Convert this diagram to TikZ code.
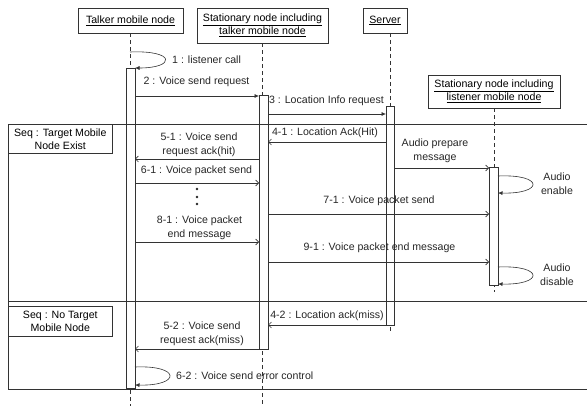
\documentclass[tikz,border=0pt]{standalone}
\usepackage{fontspec}
\setmainfont{Liberation Sans}
\usetikzlibrary{arrows.meta}
\begin{document}
\begin{tikzpicture}[x=1pt,y=-1pt,
  ln/.style={draw=black!80,line width=0.6pt},
  life/.style={draw=black!80,line width=0.6pt,dash pattern=on 4pt off 3pt},
  headbox/.style={draw=black!80,line width=0.6pt,fill=white,inner sep=0pt,align=center},
  bar/.style={draw=black!80,line width=0.6pt,fill=white},
  lbl/.style={inner sep=0pt,align=center,font=\fontsize{10.6}{14}\selectfont,text=black!85},
  sync/.style={ln,-{Latex[length=4.5pt,width=4pt]}},
  async/.style={ln,-{Straight Barb[length=3pt,width=6pt]}},
  every node/.style={font=\fontsize{10.6}{14}\selectfont}]
\useasboundingbox (0,0) rectangle (587,406);

% lifeline heads
\node[headbox,minimum width=105pt,minimum height=25pt] (talker) at (130.5,20.5) {\underline{Talker mobile node}};
\node[headbox,minimum width=131pt,minimum height=35pt] (stat) at (262.5,25.5) {\underline{Stationary node including}\\[-1pt]\underline{talker mobile node}};
\node[headbox,minimum width=44pt,minimum height=25pt] (server) at (385,20.5) {\underline{Server}};
\node[headbox,minimum width=132pt,minimum height=33pt] (listen) at (494,91.5) {\underline{Stationary node including}\\[-1pt]\underline{listener mobile node}};

% lifelines
\coordinate (tEnd) at (130,406);
\coordinate (sEnd) at (263,406);
\coordinate (vEnd) at (390,333);
\coordinate (lEnd) at (493,292);
\draw[life] (talker.south) -- (talker.south |- tEnd);
\draw[life] (stat.south) -- (stat.south |- sEnd);
\draw[life] (390,33) -- (vEnd);
\draw[life] (listen.south) -- (listen.south |- lEnd);

% activation bars
\node[bar,minimum width=9pt,minimum height=320pt,inner sep=0pt] (tbar) at (130.5,228) {};
\node[bar,minimum width=9pt,minimum height=254pt,inner sep=0pt] (sbar) at (263.5,222) {};
\node[bar,minimum width=8pt,minimum height=219pt,inner sep=0pt] (vbar) at (390,215.5) {};
\node[bar,minimum width=9pt,minimum height=118pt,inner sep=0pt] (lbar) at (493.5,226) {};

% frames
\draw[ln] (587,124) -- (8,124) -- (8,301) -- (587,301);
\draw[ln] (8,301) -- (8,389) -- (587,389);
\node[headbox,minimum width=104pt,minimum height=29pt,anchor=north west,font=\fontsize{10.6}{13}\selectfont] (seq1) at (8,124) {Seq : Target Mobile\\Node Exist};
\node[headbox,minimum width=104pt,minimum height=30pt,anchor=north west,font=\fontsize{10.6}{13}\selectfont] (seq2) at (8,306) {Seq : No Target\\Mobile Node};

% message coordinates
\coordinate (c1a) at (130,52);
\coordinate (c1b) at (135,68);
\coordinate (c2a) at (135,96);
\coordinate (c2b) at (259,96);
\coordinate (c3a) at (268,114);
\coordinate (c3b) at (386,114);
\coordinate (c41a) at (386,142);
\coordinate (c41b) at (268,142);
\coordinate (c51a) at (259,159);
\coordinate (c51b) at (135,159);
\coordinate (cApa) at (394,168);
\coordinate (cApb) at (489,168);
\coordinate (cAea) at (498,176);
\coordinate (cAeb) at (498,193);
\coordinate (c61a) at (135,183);
\coordinate (c61b) at (259,183);
\coordinate (c71a) at (268,214);
\coordinate (c71b) at (489,214);
\coordinate (c81a) at (135,242);
\coordinate (c81b) at (259,242);
\coordinate (c91a) at (268,262);
\coordinate (c91b) at (489,262);
\coordinate (cAda) at (498,267);
\coordinate (cAdb) at (498,284);
\coordinate (c42a) at (386,325);
\coordinate (c42b) at (268,325);
\coordinate (c52a) at (259,349);
\coordinate (c52b) at (135,349);
\coordinate (c62a) at (135,367);
\coordinate (c62b) at (135,385);

% messages
\draw[sync] (c1a) .. controls (176,50) and (176,68) .. (c1b);
\node[lbl,anchor=west] (l1) at (172,60) {1 : listener call};

\draw[sync] (c2a) -- (c2b);
\node[lbl] (l2) at (196.5,82) {2 : Voice send request};

\draw[sync] (c3a) -- (c3b);
\node[lbl,anchor=east] (l3) at (384,101) {3 : Location Info request};

\draw[async] (c41a) -- (c41b);
\node[lbl] (l41) at (325,133) {4-1 : Location Ack(Hit)};

\draw[async] (c51a) -- (c51b);
\node[lbl] (l51) at (199,144.5) {5-1 : Voice send\\request ack(hit)};

\draw[async] (cApa) -- (cApb);
\node[lbl] (lAp) at (435,151) {Audio prepare\\message};

\draw[sync] (cAea) .. controls (544,174) and (544,194) .. (cAeb);
\node[lbl] (lAe) at (557,183.5) {Audio\\enable};

\draw[async] (c61a) -- (c61b);
\node[lbl] (l61) at (196.5,171) {6-1 : Voice packet send};

\fill[black!85] (197,189) circle (1.3pt) (197,197) circle (1.3pt) (197,204) circle (1.3pt);

\draw[async] (c71a) -- (c71b);
\node[lbl] (l71) at (379,201) {7-1 : Voice packet send};

\draw[async] (c81a) -- (c81b);
\node[lbl] (l81) at (199.5,227.5) {8-1 : Voice packet\\end message};

\draw[async] (c91a) -- (c91b);
\node[lbl] (l91) at (379.5,248) {9-1 : Voice packet end message};

\draw[sync] (cAda) .. controls (544,265) and (544,285) .. (cAdb);
\node[lbl] (lAd) at (557,275) {Audio\\disable};

\draw[async] (c42a) -- (c42b);
\node[lbl] (l42) at (327,316) {4-2 : Location ack(miss)};

\draw[async] (c52a) -- (c52b);
\node[lbl] (l52) at (202,334) {5-2 : Voice send\\request ack(miss)};

\draw[sync] (c62a) .. controls (181,365) and (181,386) .. (c62b);
\node[lbl,anchor=west] (l62) at (176,375.5) {6-2 : Voice send error control};
\end{tikzpicture}
\end{document}
